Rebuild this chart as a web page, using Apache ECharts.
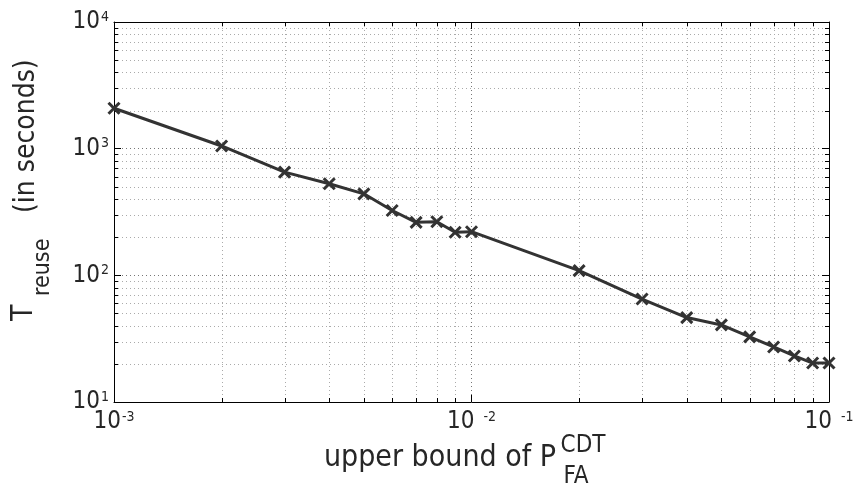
<!DOCTYPE html>
<html>
<head>
<meta charset="utf-8">
<script src="https://cdn.jsdelivr.net/npm/echarts@6/dist/echarts.min.js"></script>
<style>
  html, body { margin: 0; padding: 0; background: #ffffff; }
  #chart { width: 861px; height: 493px; }
</style>
</head>
<body>
<div id="chart"></div>
<script>
// Upper bound on the CDT false-alarm probability (x) and the resulting reuse time (y, seconds)
const pfaBound = [0.001, 0.002, 0.003, 0.004, 0.005, 0.006, 0.007, 0.008, 0.009, 0.01,
                  0.02, 0.03, 0.04, 0.05, 0.06, 0.07, 0.08, 0.09, 0.1];
const reuseTime = [2085, 1050, 653, 528, 440, 325, 262, 265, 219, 221,
                   109, 65, 46.4, 40.6, 32.7, 27.2, 23.1, 20.3, 20.3];

// Decade ticks and their exponent labels
const xTicks = [0.001, 0.01, 0.1];
const xTickExponents = ['-3', '-2', '-1'];
const yTicks = [10, 100, 1000, 10000];
const yTickExponents = ['1', '2', '3', '4'];

// Minor (2..9 within each decade) positions for the log grid
const xMinorTicks = [0.002, 0.003, 0.004, 0.005, 0.006, 0.007, 0.008, 0.009,
                     0.02, 0.03, 0.04, 0.05, 0.06, 0.07, 0.08, 0.09];
const yMinorTicks = [20, 30, 40, 50, 60, 70, 80, 90,
                     200, 300, 400, 500, 600, 700, 800, 900,
                     2000, 3000, 4000, 5000, 6000, 7000, 8000, 9000];

const FONT = '"Liberation Sans Narrow", "DejaVu Sans Condensed", "Liberation Sans", Arial, sans-serif';
const INK = '#333333';
const TEXT = '#262626';

function nearestIndex(list, v) {
  let best = 0;
  for (let i = 1; i < list.length; i++) {
    if (Math.abs(Math.log10(list[i]) - Math.log10(v)) < Math.abs(Math.log10(list[best]) - Math.log10(v))) best = i;
  }
  return best;
}

const tickRich = {
  b: { fontFamily: FONT, fontSize: 24, lineHeight: 24, color: TEXT, verticalAlign: 'bottom' },
  sup: { fontFamily: FONT, fontSize: 14, lineHeight: 14, color: TEXT, verticalAlign: 'top', padding: [0, 0, 14, 1] },
  supGap: { fontFamily: FONT, fontSize: 14, lineHeight: 14, color: TEXT, verticalAlign: 'top', padding: [0, 0, 14, 9] }
};

const minorGridStyle = { stroke: '#aaaaaa', lineWidth: 1, lineDash: [1, 3] };
const tickStyle = { stroke: '#000', lineWidth: 1 };

function renderXMinor(params, api) {
  const cs = params.coordSys;
  const px = Math.round(api.coord([api.value(0), 100])[0]) + 0.5;
  const top = cs.y, bottom = cs.y + cs.height;
  return {
    type: 'group',
    children: [
      { type: 'line', shape: { x1: px, y1: top, x2: px, y2: bottom }, style: minorGridStyle, silent: true },
      { type: 'line', shape: { x1: px, y1: bottom, x2: px, y2: bottom - 4 }, style: tickStyle, silent: true },
      { type: 'line', shape: { x1: px, y1: top, x2: px, y2: top + 4 }, style: tickStyle, silent: true }
    ]
  };
}

function renderYMinor(params, api) {
  const cs = params.coordSys;
  const py = Math.round(api.coord([0.01, api.value(1)])[1]) + 0.5;
  const left = cs.x, right = cs.x + cs.width;
  return {
    type: 'group',
    children: [
      { type: 'line', shape: { x1: left, y1: py, x2: right, y2: py }, style: minorGridStyle, silent: true },
      { type: 'line', shape: { x1: left, y1: py, x2: left + 4, y2: py }, style: tickStyle, silent: true },
      { type: 'line', shape: { x1: right, y1: py, x2: right - 4, y2: py }, style: tickStyle, silent: true }
    ]
  };
}

const majorSplit = { show: true, lineStyle: { color: '#777777', width: 1, type: [1, 3] } };
const axisLineStyle = { show: true, lineStyle: { color: '#000', width: 1 } };
const majorTick = { show: true, inside: true, length: 7, lineStyle: { color: '#000', width: 1 } };

const chart = echarts.init(document.getElementById('chart'), null, { renderer: 'canvas' });

chart.setOption({
  backgroundColor: '#ffffff',
  animation: false,
  grid: { left: 114, right: 32, top: 22, bottom: 91, containLabel: false },
  xAxis: [
    {
      type: 'log', logBase: 10, min: 0.001, max: 0.1, position: 'bottom',
      axisLine: axisLineStyle, axisTick: majorTick, splitLine: majorSplit,
      axisLabel: {
        margin: 8,
        formatter: function (v) {
          const i = nearestIndex(xTicks, v);
          return '{b|10}{' + (i === 0 ? 'sup' : 'supGap') + '|' + xTickExponents[i] + '}';
        },
        rich: tickRich
      }
    },
    {
      type: 'log', logBase: 10, min: 0.001, max: 0.1, position: 'top',
      axisLine: axisLineStyle, axisTick: majorTick, splitLine: { show: false }, axisLabel: { show: false }
    }
  ],
  yAxis: [
    {
      type: 'log', logBase: 10, min: 10, max: 10000, position: 'left',
      axisLine: axisLineStyle, axisTick: majorTick, splitLine: majorSplit,
      axisLabel: {
        margin: 5,
        formatter: function (v) {
          const i = nearestIndex(yTicks, v);
          return '{b|10}{sup|' + yTickExponents[i] + '}';
        },
        rich: tickRich
      }
    },
    {
      type: 'log', logBase: 10, min: 10, max: 10000, position: 'right',
      axisLine: axisLineStyle, axisTick: majorTick, splitLine: { show: false }, axisLabel: { show: false }
    }
  ],
  series: [
    {
      type: 'custom', name: 'xMinor', coordinateSystem: 'cartesian2d', xAxisIndex: 0, yAxisIndex: 0,
      renderItem: renderXMinor, silent: true, z: 1,
      data: xMinorTicks.map(v => [v, 100])
    },
    {
      type: 'custom', name: 'yMinor', coordinateSystem: 'cartesian2d', xAxisIndex: 0, yAxisIndex: 0,
      renderItem: renderYMinor, silent: true, z: 1,
      data: yMinorTicks.map(v => [0.01, v])
    },
    {
      type: 'line', name: 'T_reuse', xAxisIndex: 0, yAxisIndex: 0, z: 5,
      data: pfaBound.map((x, i) => [x, reuseTime[i]]),
      lineStyle: { color: INK, width: 3 },
      symbol: 'path://M0,0L10,10M10,0L0,10',
      symbolSize: 11,
      itemStyle: { color: INK, borderColor: INK, borderWidth: 3 },
      emphasis: { disabled: true }
    }
  ],
  graphic: [
    // x-axis title: upper bound of P with CDT superscript and FA subscript
    { type: 'text', x: 440, y: 458, silent: true,
      style: { text: 'upper bound of P', font: '30px ' + FONT, fill: TEXT, align: 'center', verticalAlign: 'middle' } },
    { type: 'text', x: 583, y: 446, silent: true,
      style: { text: 'CDT', font: '24px ' + FONT, fill: TEXT, align: 'center', verticalAlign: 'middle' } },
    { type: 'text', x: 576, y: 477, silent: true,
      style: { text: 'FA', font: '24px ' + FONT, fill: TEXT, align: 'center', verticalAlign: 'middle' } },
    // y-axis title: T_reuse (in seconds), rotated to read bottom-to-top
    { type: 'text', x: 24, y: 321, rotation: Math.PI / 2, silent: true,
      style: { text: 'T', font: '30px ' + FONT, fill: TEXT, align: 'left', verticalAlign: 'middle' } },
    { type: 'text', x: 43, y: 296, rotation: Math.PI / 2, silent: true,
      style: { text: 'reuse', font: '23px ' + FONT, fill: TEXT, align: 'left', verticalAlign: 'middle' } },
    { type: 'text', x: 27, y: 213, rotation: Math.PI / 2, silent: true,
      style: { text: '(in seconds)', font: '28px ' + FONT, fill: TEXT, align: 'left', verticalAlign: 'middle' } }
  ]
});
</script>
</body>
</html>
